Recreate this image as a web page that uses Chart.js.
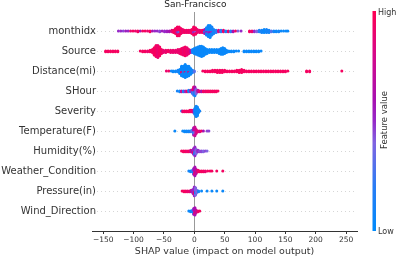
<!DOCTYPE html>
<html>
<head>
<meta charset="utf-8">
<script src="https://cdn.jsdelivr.net/npm/chart.js@4.4.0/dist/chart.umd.min.js"></script>
<style>
    html, body { margin: 0; padding: 0; background: #fff; }
    #wrap { width: 399px; height: 256px; }
</style>
</head>
<body>
<div id="wrap"><canvas id="shapChart" width="399" height="256"></canvas></div>
<script>
// feature names, top to bottom
const features = ['monthidx', 'Source', 'Distance(mi)', 'SHour', 'Severity',
    'Temperature(F)', 'Humidity(%)', 'Weather_Condition', 'Pressure(in)', 'Wind_Direction'];
const xTicks = [-150, -100, -50, 0, 50, 100, 150, 200, 250];

// [shap value, number of samples, feature value 0=low..1=high]
const monthidx = [[-125,1,.5],[-121,1,.5],[-117,1,.45],[-113,1,.55],[-109,1,.5],[-105,1,.9],[-101,1,.95],[-97,1,.9],
    [-93,2,.95],[-89,1,.6],[-85,1,.95],[-81,1,.95],[-77,1,.9],[-73,2,.95],[-69,1,.6],[-65,1,.5],[-61,1,.5],[-57,2,.45],
    [-53,1,.55],[-49,2,.5],[-45,2,.55],[-41,2,.6],[-37,3,.85],[-34,4,.95],[-31,7,.95],[-28,9,.95],[-28,3,.5],[-25,9,.95],
    [-25,3,.3],[-22,7,.95],[-19,5,.9],[-16,4,.95],[-13,4,.9],[-10,4,.95],[-7,4,.9],[-4,6,.95],[-1,8,.95],[-1,3,.5],
    [2,7,.95],[2,2,.4],[5,5,.9],[9,4,.9],[13,4,.95],[17,4,.6],[17,2,.1],[20,8,.1],[20,2,.6],[23,12,.05],[23,3,.5],
    [26,13,.05],[26,3,.6],[29,9,.1],[29,2,.5],[32,6,.1],[36,4,.2],[40,3,.8],[44,3,.2],[48,3,.9],[52,2,.1],[56,2,.9],
    [60,2,.2],[64,2,.6],[68,1,.95],[72,1,.4],[77,1,.5],[91,2,.95],[95,2,.9],[99,2,.5],[103,2,.4],[107,3,.15],[111,4,.1],
    [115,5,.05],[119,5,.1],[123,4,.1],[127,2,.3],[131,2,.1],[135,2,.05],[139,2,.1],[143,1,.05],[147,1,.05],[151,1,.05],[154,1,.05]];
const source = [[-146,2,.95],[-142,2,.95],[-138,2,.95],[-134,2,.95],[-130,2,.95],[-126,2,.95],
    [-89,1,.95],[-85,2,.95],[-81,2,.95],[-77,2,.9],[-73,3,.95],[-69,5,.95],[-66,10,.95],[-63,15,.95],[-60,16,.9],
    [-57,12,.95],[-54,6,.95],[-51,4,.9],[-47,4,.9],[-43,3,.95],[-39,4,.9],[-35,4,.9],[-31,4,.9],[-27,5,.9],[-24,6,.9],
    [-21,8,.95],[-18,10,.9],[-15,12,.95],[-12,10,.9],[-9,6,.9],[-6,4,.7],[-3,5,.1],[0,7,.05],[3,9,.05],[6,11,.05],
    [9,13,.05],[12,14,.05],[15,12,.05],[18,8,.05],[21,6,.05],[25,5,.05],[29,5,.05],[33,5,.05],[37,5,.05],[41,6,.05],
    [44,8,.05],[47,9,.05],[50,7,.05],[53,4,.05],[57,2,.05],[61,2,.05],[65,2,.05],[69,1,.05],[73,1,.05],
    [82,2,.05],[86,2,.05],[90,2,.05],[94,2,.05],[98,2,.05],[102,2,.05],[106,2,.05],[110,1,.05]];
const distance = [[-46,1,.9],[-42,1,.95],[-38,1,.1],[-35,2,.05],[-31,2,.05],[-27,3,.1],[-24,6,.05],[-21,10,.05],
    [-21,3,.9],[-18,14,.05],[-15,15,.05],[-15,2,.9],[-12,14,.05],[-9,11,.05],[-9,2,.8],[-6,8,.05],[-3,4,.1],[0,2,.3],
    [14,1,.95],[18,2,.95],[22,2,.95],[26,2,.95],[30,3,.95],[34,3,.95],[38,4,.95],[42,4,.95],[46,4,.95],[50,3,.95],
    [54,2,.95],[58,2,.95],[62,2,.95],[66,2,.95],[70,3,.95],[74,4,.95],[78,5,.95],[82,3,.95],[86,2,.95],[90,2,.95],
    [94,2,.95],[98,2,.95],[102,2,.95],[106,2,.95],[110,2,.95],[114,2,.95],[118,2,.95],[122,2,.95],[126,2,.95],
    [130,2,.95],[134,2,.95],[138,2,.95],[142,2,.95],[146,2,.95],[150,2,.95],[154,1,.95],[185,2,.95],[190,2,.95],[243,1,.95]];
const sHour = [[-28,1,.1],[-24,2,.1],[-21,2,.8],[-18,2,.1],[-15,2,.5],[-12,2,.9],[-9,3,.1],[-6,3,.5],[-3,3,.8],
    [-3,3,.2],[-1,6,.9],[-1,5,.3],[1,6,.6],[1,6,.1],[3,6,.4],[6,3,.7],[9,2,.9],[12,2,.6],[15,2,.95],[18,2,.9],
    [21,2,.95],[24,2,.95],[27,2,.95],[30,2,.95],[33,2,.95],[36,2,.95],[39,1,.95]];
const severity = [[-21,1,.1],[-19,2,.9],[-16,2,.95],[-13,2,.95],[-10,2,.95],[-7,3,.95],[-4,3,.9],[-1,4,.7],
    [1,8,.1],[3,14,.05],[5,12,.05],[7,5,.05],[9,1,.1]];
const temperature = [[-32,1,.05],[-19,1,.05],[-16,2,.05],[-13,2,.05],[-10,2,.1],[-7,2,.1],[-4,3,.3],[-1,6,.6],
    [-1,4,.2],[1,8,.75],[1,4,.4],[3,6,.8],[6,2,.9],[9,2,.8],[12,1,.95],[15,1,.6],[21,1,.45],[24,1,.45]];
const humidity = [[-21,1,.95],[-18,2,.95],[-15,2,.95],[-12,2,.9],[-9,2,.95],[-6,3,.8],[-3,4,.6],[-1,5,.5],
    [-1,3,.95],[1,7,.5],[1,5,.15],[3,6,.4],[6,3,.5],[9,2,.45],[12,2,.45],[15,2,.4],[18,1,.45],[21,1,.4]];
const weather = [[-9,1,.1],[-6,2,.05],[-3,3,.2],[-1,5,.5],[-1,3,.1],[1,7,.6],[1,5,.9],[3,6,.7],[6,3,.9],
    [9,2,.95],[12,2,.95],[15,2,.95],[18,2,.9],[22,1,.95],[26,1,.95],[29,1,.95],[37,1,.95],[47,1,.95]];
const pressure = [[-20,1,.95],[-17,2,.95],[-14,2,.95],[-11,2,.9],[-8,2,.9],[-5,3,.7],[-2,6,.5],[0,7,.5],
    [0,5,.9],[2,6,.4],[2,4,.1],[4,4,.4],[7,2,.1],[12,1,.05],[21,1,.05],[29,1,.05],[37,1,.05],[47,1,.05]];
const windDir = [[-9,1,.05],[-6,2,.05],[-3,3,.1],[-1,5,.5],[-1,3,.1],[1,6,.6],[1,4,.9],[3,4,.7],[6,2,.9],[9,1,.95]];

const rows = [monthidx, source, distance, sHour, severity, temperature, humidity, weather, pressure, windDir];

// shap red_blue colour map, low -> high
const cmapStops = [[0, [0, 139, 251]], [0.2, [40, 125, 245]], [0.4, [128, 100, 225]], [0.5, [150, 40, 200]],
    [0.6, [168, 16, 176]], [0.8, [214, 8, 138]], [1, [255, 0, 82]]];

function shapColor(t) {
    for (let i = 1; i < cmapStops.length; i++) {
        if (t <= cmapStops[i][0]) {
            const [t0, c0] = cmapStops[i - 1];
            const [t1, c1] = cmapStops[i];
            const f = (t - t0) / (t1 - t0);
            const c = c0.map((v, k) => Math.round(v + (c1[k] - v) * f));
            return `rgb(${c[0]},${c[1]},${c[2]})`;
        }
    }
    return 'rgb(255,0,82)';
}

// beeswarm: samples sharing a value are stacked up and down from the row line
const swarmStep = 0.04;
const points = [];
const pointColors = [];
rows.forEach((row, r) => {
    const groups = new Map();
    row.forEach(([v, n, c]) => {
        if (!groups.has(v)) groups.set(v, []);
        groups.get(v).push({ n, c });
    });
    groups.forEach((entries, v) => {
        const list = [];
        const left = entries.map(e => e.n);
        let added = true;
        while (added) {
            added = false;
            entries.forEach((e, i) => {
                if (left[i] > 0) { list.push(e.c); left[i]--; added = true; }
            });
        }
        list.forEach((c, k) => {
            const off = Math.ceil(k / 2) * swarmStep * (k % 2 ? 1 : -1);
            points.push({ x: v, y: r + off });
            pointColors.push(shapColor(c));
        });
    });
});

const decorations = {
    id: 'decorations',
    beforeDatasetsDraw(chart) {
        const { ctx, chartArea, scales } = chart;
        ctx.save();
        ctx.strokeStyle = '#d6d6d6';
        ctx.lineWidth = 1;
        ctx.setLineDash([1, 3]);
        features.forEach((f, i) => {
            const y = Math.round(scales.y.getPixelForValue(i)) + 0.5;
            ctx.beginPath();
            ctx.moveTo(97, y);
            ctx.lineTo(chartArea.right, y);
            ctx.stroke();
        });
        ctx.setLineDash([]);
        const x0 = Math.round(scales.x.getPixelForValue(0)) + 0.5;
        ctx.strokeStyle = '#999999';
        ctx.beginPath();
        ctx.moveTo(x0, chartArea.top + 1);
        ctx.lineTo(x0, chartArea.bottom);
        ctx.stroke();
        ctx.restore();
    },
    afterDraw(chart) {
        const { ctx, scales } = chart;
        ctx.save();
        // feature labels
        ctx.fillStyle = '#333';
        ctx.font = '10px "DejaVu Sans"';
        ctx.textAlign = 'right';
        ctx.textBaseline = 'middle';
        features.forEach((f, i) => {
            ctx.fillText(f, 96, scales.y.getPixelForValue(i) + 0.5);
        });

        // title
        ctx.fillStyle = '#222';
        ctx.font = '9px "DejaVu Sans"';
        ctx.textAlign = 'center';
        ctx.fillText('San-Francisco', scales.x.getPixelForValue(0) + 1, 5);

        // colour bar
        const top = 11, bottom = 231, left = 372.5, w = 3.5;
        const grad = ctx.createLinearGradient(0, bottom, 0, top);
        cmapStops.forEach(([t, c]) => grad.addColorStop(t, `rgb(${c[0]},${c[1]},${c[2]})`));
        ctx.fillStyle = grad;
        ctx.fillRect(left, top, w, bottom - top);
        ctx.fillStyle = '#333';
        ctx.font = '8px "DejaVu Sans"';
        ctx.textAlign = 'left';
        ctx.fillText('High', 378, 12.5);
        ctx.fillText('Low', 378, 231.5);
        ctx.translate(384.5, 120);
        ctx.rotate(-Math.PI / 2);
        ctx.textAlign = 'center';
        ctx.font = '8.5px "DejaVu Sans"';
        ctx.fillText('Feature value', 0, 0);
        ctx.restore();
    }
};

const ctx = document.getElementById('shapChart').getContext('2d');
new Chart(ctx, {
    type: 'scatter',
    data: {
        datasets: [{
            data: points,
            pointBackgroundColor: pointColors,
            pointBorderWidth: 0,
            pointRadius: 1.5,
            pointHoverRadius: 1.5
        }]
    },
    options: {
        responsive: false,
        animation: false,
        devicePixelRatio: 1,
        layout: { padding: { top: 11, right: 42, bottom: 0, left: 0 } },
        plugins: {
            legend: { display: false },
            tooltip: { enabled: false }
        },
        scales: {
            x: {
                type: 'linear',
                min: -168.5,
                max: 268,
                afterBuildTicks: scale => { scale.ticks = xTicks.map(v => ({ value: v })); },
                afterFit: scale => { scale.height = 25; },
                grid: { drawOnChartArea: false, drawTicks: true, tickLength: 3, tickColor: '#333' },
                border: { display: true, color: '#333', width: 1 },
                ticks: {
                    padding: 1.5,
                    color: '#333',
                    font: { family: 'DejaVu Sans', size: 7.5 },
                    maxRotation: 0,
                    callback: v => v < 0 ? '\u2212' + Math.abs(v) : String(v)
                },
                title: {
                    display: true,
                    text: 'SHAP value (impact on model output)',
                    color: '#333',
                    font: { family: 'DejaVu Sans', size: 9.5, lineHeight: 1 },
                    padding: { top: 0, bottom: 0 }
                }
            },
            y: {
                type: 'linear',
                reverse: true,
                min: -1,
                max: 10,
                afterBuildTicks: scale => { scale.ticks = features.map((f, i) => ({ value: i })); },
                afterFit: scale => { scale.width = 92; },
                grid: { display: false },
                border: { display: false },
                ticks: { display: false }
            }
        }
    },
    plugins: [decorations]
});
</script>
</body>
</html>
